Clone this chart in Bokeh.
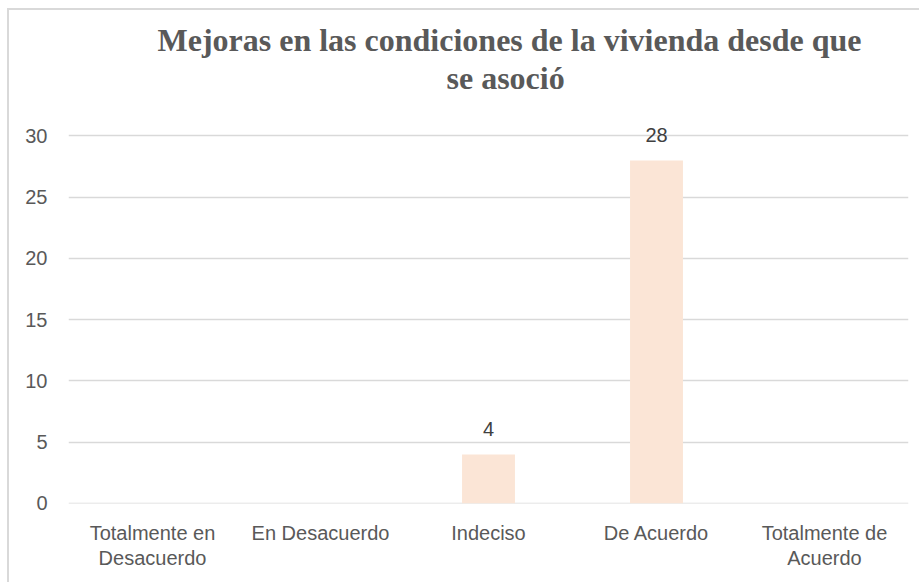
from bokeh.plotting import figure
from bokeh.models import (ColumnDataSource, FactorRange, Range1d, FixedTicker, Title,
                          CategoricalAxis, CustomJSTickFormatter)
from bokeh.core.properties import value
from bokeh.embed import file_html
from bokeh.resources import INLINE

# ---- data ----
categories = ["Totalmente en Desacuerdo", "En Desacuerdo", "Indeciso", "De Acuerdo", "Totalmente de Acuerdo"]
label_line1 = ["Totalmente en", "En Desacuerdo", "Indeciso", "De Acuerdo", "Totalmente de"]
label_line2 = ["Desacuerdo", "", "", "", "Acuerdo"]
counts = [0, 0, 4, 28, 0]
y_ticks = [0, 5, 10, 15, 20, 25, 30]
title_lines = ["Mejoras en las condiciones de la vivienda desde que", "se asoció"]

SANS = "Liberation Sans"
SERIF = "Liberation Serif"

src = ColumnDataSource(dict(cat=categories, val=counts))
lab_cats = [c for c, v in zip(categories, counts) if v > 0]
lab_vals = [v for v in counts if v > 0]
lab_src = ColumnDataSource(dict(cat=lab_cats, val=lab_vals, txt=[str(v) for v in lab_vals]))

p = figure(
    x_range=FactorRange(*categories, range_padding=0),
    y_range=Range1d(-0.01, 32),
    width=912, height=574, title=None,
    output_backend="svg", toolbar_location=None,
    min_border_left=59, min_border_right=13, min_border_top=101, min_border_bottom=81,
    styles={"margin-left": "7px", "margin-top": "8px",
            "border-left": "2px solid #d9d9d9", "border-top": "2px solid #d9d9d9"},
)
p.outline_line_color = None
p.background_fill_color = "white"
p.border_fill_color = "white"

p.vbar(x="cat", top="val", width=0.315, source=src, fill_color="#FBE5D6", line_color=None)

p.text(x="cat", y="val", text="txt", source=lab_src, text_align="center",
       text_baseline="bottom", y_offset=-18, text_color="#404040",
       text_font=value(SANS), text_font_size="20px")

# axes
p.xgrid.grid_line_color = None
p.ygrid.grid_line_color = "#d9d9d9"
p.ygrid.grid_line_width = 1.5
p.yaxis.ticker = FixedTicker(ticks=y_ticks)

ax2 = CategoricalAxis()
p.add_layout(ax2, "below")

code = "const i = names.indexOf(tick); return i >= 0 ? labels[i] : '';"
p.xaxis[0].formatter = CustomJSTickFormatter(args=dict(names=categories, labels=label_line1), code=code)
ax2.formatter = CustomJSTickFormatter(args=dict(names=categories, labels=label_line2), code=code)

for ax in (p.xaxis[0], ax2, p.yaxis[0]):
    ax.axis_line_color = None
    ax.major_tick_line_color = None
    ax.minor_tick_line_color = None
    ax.major_tick_out = 0
    ax.major_tick_in = 0
    ax.major_label_text_color = "#595959"
    ax.major_label_text_font = SANS
    ax.major_label_text_font_size = "20px"
p.yaxis.major_label_standoff = 21
p.xaxis[0].major_label_standoff = 18
ax2.major_label_standoff = 0

# title: spacer + two lines (later-added sits higher)
common = dict(align="left", text_color="#595959", text_font=SERIF,
              text_font_style="bold", text_font_size="32px", standoff=0)
p.add_layout(Title(text=" ", text_font_size="12px", standoff=0), "above")
p.add_layout(Title(text=title_lines[1], offset=378, **common), "above")
p.add_layout(Title(text=title_lines[0], offset=89, **common), "above")

open("out.html", "w").write(file_html(p, INLINE))
